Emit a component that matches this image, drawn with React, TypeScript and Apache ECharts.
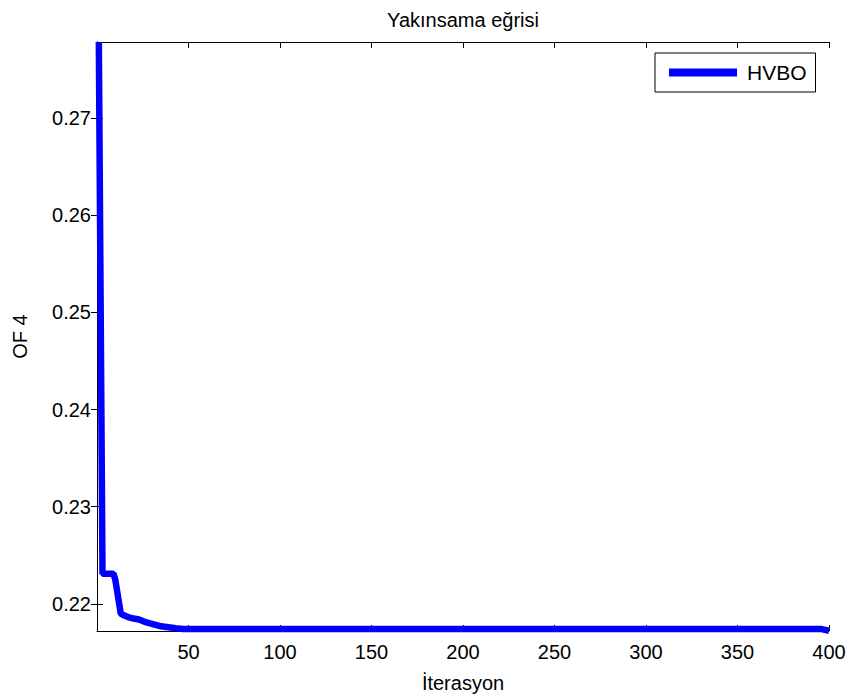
import React, { useEffect, useRef } from 'react';
import * as echarts from 'echarts';

const iterations = [1, 3, 9, 10, 13, 14, 17, 20, 23, 27, 31, 35, 39, 43, 47, 396, 400];
const ofValues = [
  0.2778, 0.2231, 0.2231, 0.2225, 0.219, 0.2189, 0.21865, 0.2185, 0.2184, 0.2181,
  0.2179, 0.2177, 0.2176, 0.2175, 0.21742, 0.21742, 0.21725,
];
const xTicks = [50, 100, 150, 200, 250, 300, 350, 400];
const yTicks = [0.22, 0.23, 0.24, 0.25, 0.26, 0.27];
const seriesName = 'HVBO';
const titleText = 'Yakınsama eğrisi';
const xName = 'İterasyon';
const yName = 'OF 4';

const FONT = '"Liberation Sans", Arial, sans-serif';

export default function App() {
  const ref = useRef<HTMLDivElement>(null);
  useEffect(() => {
    if (!ref.current) return;
    const chart = echarts.init(ref.current, undefined, { renderer: 'svg' });
    const data = iterations.map((x, i) => [x, ofValues[i]]);
    const xMin = 0;
    const xMax = 400;
    const yMin = 0.21722;
    const yMax = 0.2778;
    const axisLine = { show: true, lineStyle: { color: '#000', width: 1 } };
    const tickStyle = { show: true, inside: true, length: 6, lineStyle: { color: '#000', width: 1 } };
    chart.setOption({
      animation: false,
      backgroundColor: '#fff',
      grid: { left: 97, right: 22, top: 42, bottom: 67 },
      graphic: [
        {
          type: 'text',
          x: 463,
          y: 20,
          style: {
            text: titleText,
            fontSize: 20,
            fontFamily: FONT,
            fill: '#000',
            textAlign: 'center',
            textVerticalAlign: 'middle',
          },
        },
      ],
      legend: {
        left: 655,
        top: 53,
        orient: 'horizontal',
        backgroundColor: '#fff',
        borderColor: '#000',
        borderWidth: 1,
        borderRadius: 0,
        padding: [9, 9, 9, 14],
        itemWidth: 68,
        itemHeight: 8,
        icon: 'rect',
        textStyle: { fontSize: 21, color: '#000', fontFamily: FONT, padding: [0, 0, 0, 5] },
        data: [seriesName],
      },
      xAxis: [
        {
          type: 'value',
          position: 'bottom',
          min: xMin,
          max: xMax,
          axisLine,
          axisTick: { ...tickStyle, customValues: xTicks },
          axisLabel: {
            customValues: xTicks,
            fontSize: 20,
            fontFamily: FONT,
            color: '#000',
            margin: 11,
          },
          splitLine: { show: false },
          name: xName,
          nameLocation: 'middle',
          nameGap: 42,
          nameTextStyle: { fontSize: 20, fontFamily: FONT, color: '#000' },
        },
        {
          type: 'value',
          position: 'top',
          min: xMin,
          max: xMax,
          axisLine,
          axisTick: { ...tickStyle, customValues: xTicks },
          axisLabel: { show: false },
          splitLine: { show: false },
        },
      ],
      yAxis: [
        {
          type: 'value',
          position: 'left',
          min: yMin,
          max: yMax,
          axisLine,
          axisTick: { ...tickStyle, customValues: yTicks },
          axisLabel: {
            customValues: yTicks,
            formatter: (v: number) => v.toFixed(2),
            fontSize: 20,
            fontFamily: FONT,
            color: '#000',
            margin: 6,
          },
          splitLine: { show: false },
          name: yName,
          nameLocation: 'middle',
          nameGap: 67,
          nameTextStyle: { fontSize: 20, fontFamily: FONT, color: '#000' },
        },
        {
          type: 'value',
          position: 'right',
          min: yMin,
          max: yMax,
          axisLine,
          axisTick: { ...tickStyle, customValues: yTicks },
          axisLabel: { show: false },
          splitLine: { show: false },
        },
      ],
      series: [
        {
          name: seriesName,
          type: 'line',
          xAxisIndex: 0,
          yAxisIndex: 0,
          data,
          showSymbol: false,
          symbol: 'none',
          clip: true,
          color: '#0000ff',
          lineStyle: { color: '#0000ff', width: 6.5 },
        },
      ],
    });
    return () => chart.dispose();
  }, []);
  return (
    <div
      ref={ref}
      style={{ position: 'fixed', left: 0, top: 0, width: 851, height: 698, background: '#fff' }}
    />
  );
}
